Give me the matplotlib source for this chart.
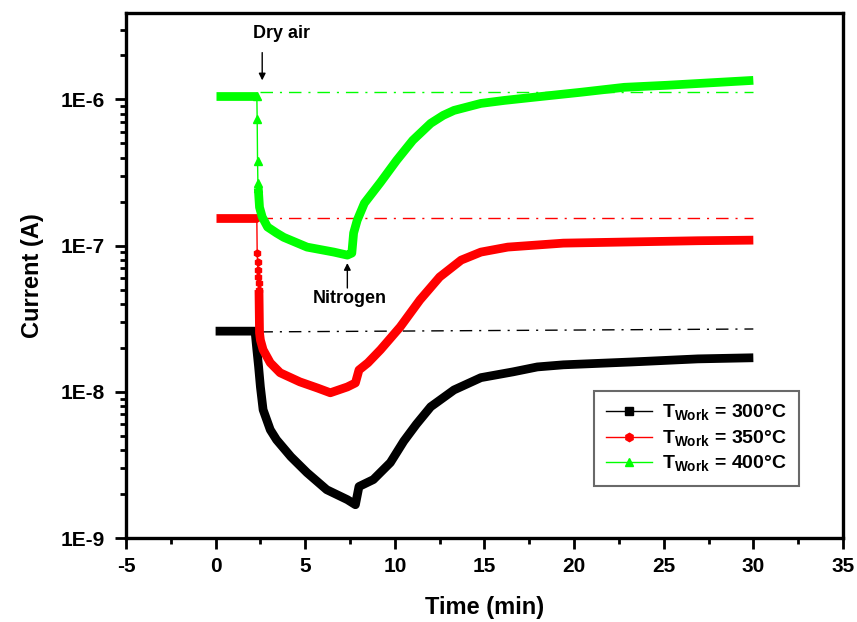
import numpy as np
import matplotlib
matplotlib.use('Agg')
import matplotlib.pyplot as plt
from matplotlib.lines import Line2D
from matplotlib.ticker import LogLocator, FuncFormatter, MultipleLocator, NullFormatter

plt.rcParams['font.family'] = ['Liberation Sans', 'DejaVu Sans']
plt.rcParams['font.weight'] = 'bold'
plt.rcParams['axes.unicode_minus'] = False
plt.rcParams['mathtext.fontset'] = 'custom'
plt.rcParams['mathtext.rm'] = 'Liberation Sans:bold'
plt.rcParams['mathtext.bf'] = 'Liberation Sans:bold'

# T_work = 300 C (black)
t_300 = [0, 1, 2.2, 2.3, 2.4, 2.5, 2.65, 3.05, 3.4, 4.2, 5.1, 6.2, 7.35, 7.8, 8.0,
         8.8, 9.75, 10.5, 11.2, 12.0, 13.3, 14.8, 16.6, 17.95, 19.4, 23.2, 26.9, 30]
i_300 = [2.6e-8, 2.6e-8, 2.6e-8, 1.95e-8, 1.48e-8, 1.08e-8, 7.54e-9, 5.5e-9, 4.7e-9,
         3.6e-9, 2.8e-9, 2.14e-9, 1.83e-9, 1.69e-9, 2.25e-9, 2.51e-9, 3.28e-9, 4.6e-9,
         6.0e-9, 7.9e-9, 1.03e-8, 1.25e-8, 1.37e-8, 1.48e-8, 1.53e-8, 1.6e-8,
         1.68e-8, 1.71e-8]

# T_work = 350 C (red)
t_350_base = [0, 2.3]
i_350_base = [1.54e-7, 1.54e-7]
t_350_drop = [2.3, 2.32, 2.34, 2.36, 2.38, 2.4, 2.42]
i_350_drop = [1.54e-7, 8.9e-8, 7.7e-8, 6.8e-8, 6.1e-8, 5.55e-8, 4.97e-8]
t_350_rec = [2.42, 2.45, 2.5, 2.65, 3.05, 3.6, 4.7, 5.7, 6.4, 7.35, 7.8, 8.0, 8.5,
             9.2, 10.3, 11.4, 12.5, 13.7, 14.8, 16.3, 17.95, 19.4, 23.2, 26.9, 30]
i_350_rec = [4.97e-8, 2.53e-8, 2.26e-8, 1.94e-8, 1.58e-8, 1.35e-8, 1.17e-8, 1.06e-8,
             9.85e-9, 1.08e-8, 1.15e-8, 1.41e-8, 1.58e-8, 1.94e-8, 2.78e-8, 4.25e-8,
             6.1e-8, 7.96e-8, 9.03e-8, 9.77e-8, 1.01e-7, 1.04e-7, 1.06e-7, 1.08e-7,
             1.09e-7]

# T_work = 400 C (green)
t_400_base = [0, 2.3]
i_400_base = [1.06e-6, 1.06e-6]
t_400_drop = [2.3, 2.32, 2.34, 2.36, 2.38]
i_400_drop = [1.06e-6, 7.3e-7, 3.8e-7, 2.7e-7, 2.47e-7]
t_400_rec = [2.38, 2.45, 2.6, 2.9, 3.4, 3.8, 5.1, 6.6, 7.35, 7.6, 7.7, 7.9, 8.3, 9.2,
             10.1, 11.0, 12.0, 12.7, 13.3, 14.8, 16.1, 17.6, 20.4, 22.8, 25.2, 30]
i_400_rec = [2.47e-7, 1.83e-7, 1.57e-7, 1.34e-7, 1.22e-7, 1.14e-7, 9.77e-8, 9.03e-8,
             8.61e-8, 8.89e-8, 1.22e-7, 1.49e-7, 1.95e-7, 2.71e-7, 3.83e-7, 5.25e-7,
             6.86e-7, 7.78e-7, 8.41e-7, 9.39e-7, 9.84e-7, 1.03e-6, 1.12e-6, 1.21e-6,
             1.25e-6, 1.35e-6]

# initial-level reference lines (dash-dot)
t_ref = [2.5, 30]
ref_300 = [2.57e-8, 2.69e-8]
ref_350 = [1.54e-7, 1.54e-7]
ref_400 = [1.12e-6, 1.12e-6]

labels = [r'T$_{\mathbf{Work}}$ = 300°C', r'T$_{\mathbf{Work}}$ = 350°C',
          r'T$_{\mathbf{Work}}$ = 400°C']
colors = ['#000000', '#ff0000', '#00ff00']
markers = ['s', 'h', '^']

fig = plt.figure(figsize=(8.57, 6.22), dpi=100)
ax = fig.add_axes([0.147, 0.135, 0.8366, 0.8441])

thick = 6.3
dd = (0, (9, 5, 1.5, 5))

# reference lines
for ref, c in zip([ref_300, ref_350, ref_400], colors):
    ax.plot(t_ref, ref, color=c, lw=1, linestyle=dd, zorder=2)

# black
ax.plot(t_300, i_300, color=colors[0], lw=thick, solid_joinstyle='round',
        solid_capstyle='butt', zorder=3)

# red
ax.plot(t_350_base, i_350_base, color=colors[1], lw=thick, solid_capstyle='butt', zorder=3)
ax.plot(t_350_drop, i_350_drop, color=colors[1], lw=1, marker=markers[1], ms=5, zorder=3)
ax.plot(t_350_rec, i_350_rec, color=colors[1], lw=thick, solid_joinstyle='round',
        solid_capstyle='butt', zorder=3)

# green
ax.plot(t_400_base, i_400_base, color=colors[2], lw=thick, solid_capstyle='butt', zorder=3)
ax.plot(t_400_drop, i_400_drop, color=colors[2], lw=1, marker=markers[2], ms=6, zorder=3)
ax.plot(t_400_rec, i_400_rec, color=colors[2], lw=thick, solid_joinstyle='round',
        solid_capstyle='butt', zorder=3)

ax.set_yscale('log')
ax.set_xlim(-5, 35)
ax.set_ylim(1e-9, 3.9e-6)

ax.xaxis.set_major_locator(MultipleLocator(5))
ax.xaxis.set_minor_locator(MultipleLocator(2.5))
ax.yaxis.set_major_locator(LogLocator(base=10, numticks=10))
ax.yaxis.set_minor_locator(LogLocator(base=10, subs=np.arange(2, 10), numticks=20))
ax.yaxis.set_major_formatter(FuncFormatter(lambda v, p: '1E%d' % round(np.log10(v))))
ax.yaxis.set_minor_formatter(NullFormatter())
ax.xaxis.get_offset_text().set_visible(False)
ax.yaxis.get_offset_text().set_visible(False)

ax.tick_params(which='major', direction='out', length=8, width=2, labelsize=15, pad=6)
ax.tick_params(axis='y', which='major', pad=7)
ax.tick_params(which='minor', direction='out', length=4.5, width=2)
ax.tick_params(top=False, right=False, which='both')
for s in ax.spines.values():
    s.set_linewidth(2.4)

ax.set_xlabel('Time (min)', fontsize=17, fontweight='bold', labelpad=14)
ax.set_ylabel('Current (A)', fontsize=17, fontweight='bold', labelpad=12)

# annotations
ax.text(3.65, 2.82e-6, 'Dry air', ha='center', va='center', fontsize=13, fontweight='bold')
ax.annotate('', xy=(2.6, 1.35e-6), xytext=(2.6, 2.09e-6),
            arrowprops=dict(arrowstyle='-|>', color='black', lw=1, mutation_scale=10,
                            shrinkA=0, shrinkB=0))
ax.text(7.5, 4.32e-8, 'Nitrogen', ha='center', va='center', fontsize=13, fontweight='bold')
ax.annotate('', xy=(7.35, 7.6e-8), xytext=(7.35, 5.13e-8),
            arrowprops=dict(arrowstyle='-|>', color='black', lw=1, mutation_scale=10,
                            shrinkA=0, shrinkB=0))

handles = [Line2D([], [], color=c, lw=1, marker=m, ms=6) for c, m in zip(colors, markers)]
leg = ax.legend(handles, labels, loc='upper left', bbox_to_anchor=(0.653, 0.28),
                borderaxespad=0, fontsize=14, frameon=True, fancybox=False,
                handlelength=2.4, labelspacing=0.28, borderpad=0.6, handletextpad=0.5)
leg.get_frame().set_edgecolor('#444444')
leg.get_frame().set_linewidth(1.5)

plt.savefig('out.png', dpi=100)
plt.close()
